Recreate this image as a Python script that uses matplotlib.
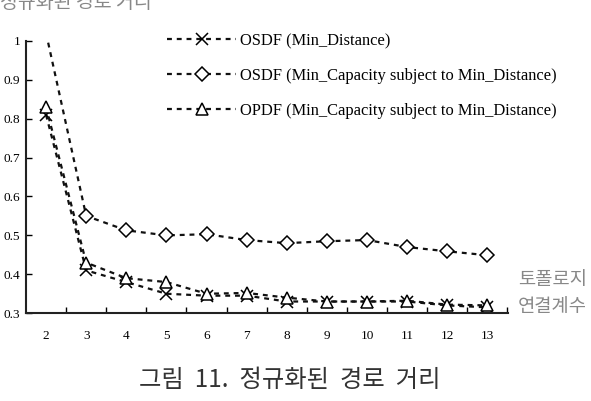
import matplotlib
matplotlib.use("Agg")
import matplotlib.pyplot as plt
from matplotlib.ticker import FixedLocator, NullFormatter

categories = [2, 3, 4, 5, 6, 7, 8, 9, 10, 11, 12, 13]
osdf_min_dist = [0.81, 0.41, 0.38, 0.35, 0.345, 0.345, 0.33, 0.33, 0.33, 0.33, 0.32, 0.315]
osdf_min_cap = [1.02, 0.55, 0.513, 0.50, 0.503, 0.488, 0.48, 0.485, 0.488, 0.47, 0.459, 0.449]
opdf_min_cap = [0.83, 0.43, 0.39, 0.38, 0.35, 0.352, 0.34, 0.33, 0.33, 0.332, 0.322, 0.32]
labels = ["OSDF (Min_Distance)",
          "OSDF (Min_Capacity subject to Min_Distance)",
          "OPDF (Min_Capacity subject to Min_Distance)"]
yticks = [0.3, 0.4, 0.5, 0.6, 0.7, 0.8, 0.9, 1.0]
ytick_labels = ["0.3", "0.4", "0.5", "0.6", "0.7", "0.8", "0.9", "1"]

W, H = 591, 401
fig = plt.figure(figsize=(5.91, 4.01), dpi=100)
ax = fig.add_axes([0.044, 0.219, 0.816, 0.679])

serif = "Liberation Serif"
ls = (0, (2.2, 2.2))
common = dict(color="#111111", linestyle=ls, linewidth=1.6, markersize=8.5,
              markeredgecolor="black", markeredgewidth=1.1)
ax.plot(categories, osdf_min_dist, marker="x", label=labels[0], **common)
ax.plot(categories, osdf_min_cap, marker="D", markerfacecolor="white",
        label=labels[1], **{**common, "markersize": 7})
ax.plot(categories, opdf_min_cap, marker="^", markerfacecolor="white",
        label=labels[2], **common)

ax.set_xlim(1.5, 13.52)
ax.set_ylim(0.3, 1.0)
for s in ["top", "right"]:
    ax.spines[s].set_visible(False)
for s in ["left", "bottom"]:
    ax.spines[s].set_linewidth(1.5)
    ax.spines[s].set_color("#222222")

ax.set_xticks(categories)
ax.set_xticklabels([str(c) for c in categories], fontfamily=serif, fontsize=9.5)
ax.xaxis.set_minor_locator(FixedLocator([c + 0.5 for c in categories]))
ax.xaxis.set_minor_formatter(NullFormatter())
ax.tick_params(axis="x", which="major", length=0, pad=12)
ax.tick_params(axis="x", which="minor", direction="in", length=4, width=1)
ax.set_yticks(yticks)
ax.set_yticklabels(ytick_labels, fontfamily=serif, fontsize=9.5)
ax.tick_params(axis="y", direction="in", length=4, width=1, pad=4)

handles, lbls = ax.get_legend_handles_labels()
fig.legend(handles, lbls, loc="upper left",
           bbox_to_anchor=(167 / W, 1 - 33 / H), frameon=False,
           prop={"family": serif, "size": 11.9}, handlelength=4.2,
           labelspacing=1.15, handletextpad=0.2, borderpad=0,
           borderaxespad=0)

fig.text(0.0, 1 - 2 / H, "정규화된 경로 거리", fontfamily="Noto Sans CJK KR",
         fontsize=14, color="#888888", ha="left", va="center")
fig.text(518 / W, 1 - 293 / H, "토폴로지\n연결계수", fontfamily="Noto Sans CJK KR",
         fontsize=13.5, color="#888888", ha="left", va="center", linespacing=1.38)
fig.text(290 / W, 1 - 380 / H, "그림  11.  정규화된  경로  거리",
         fontfamily="Noto Sans CJK KR",
         fontsize=17.5, color="#333333", ha="center", va="center")

fig.savefig("out.png", dpi=100)
